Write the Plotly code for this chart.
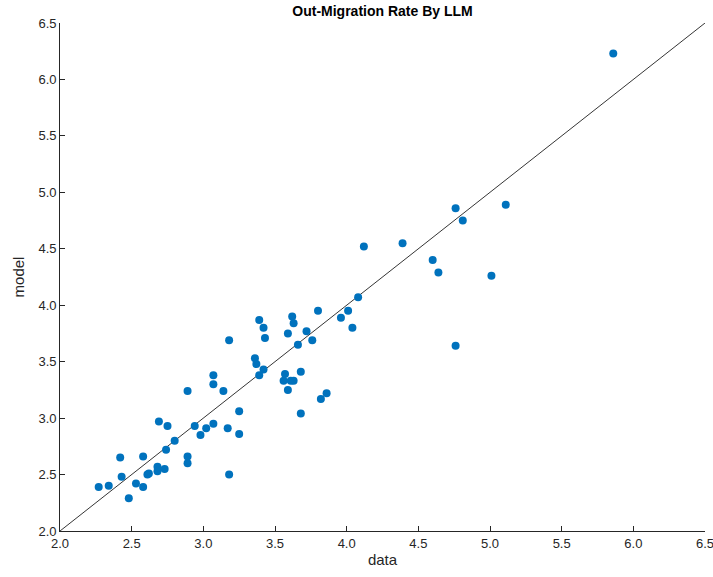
import plotly.graph_objects as go

# Observed out-migration rate vs. model prediction
data_vals = [
    2.27, 2.34, 2.48, 2.43, 2.42, 2.53, 2.58, 2.61, 2.62, 2.58,
    2.69, 2.75, 2.68, 2.68, 2.73, 2.74, 2.80, 2.89, 2.89, 2.94,
    2.98, 3.02, 3.07, 3.17, 3.18, 3.25, 3.25, 2.89,
    3.18, 3.39, 3.42, 3.43, 3.36, 3.37, 3.42, 3.39, 3.07, 3.07,
    3.14, 3.62, 3.63, 3.59, 3.72, 3.66, 3.76, 3.80, 3.96, 4.01,
    4.04, 4.08, 3.57, 3.56, 3.61, 3.63, 3.68, 3.59, 3.86, 3.82,
    3.68,
    4.12, 4.39, 4.76, 4.81, 5.11, 4.60, 4.64, 5.01, 4.76, 5.86,
]
model_vals = [
    2.39, 2.40, 2.29, 2.48, 2.65, 2.42, 2.39, 2.50, 2.51, 2.66,
    2.97, 2.93, 2.57, 2.53, 2.55, 2.72, 2.80, 2.66, 2.60, 2.93,
    2.85, 2.91, 2.95, 2.91, 2.50, 3.06, 2.86, 3.24,
    3.69, 3.87, 3.80, 3.71, 3.53, 3.48, 3.43, 3.38, 3.38, 3.30,
    3.24, 3.90, 3.84, 3.75, 3.77, 3.65, 3.69, 3.95, 3.89, 3.95,
    3.80, 4.07, 3.39, 3.33, 3.33, 3.33, 3.41, 3.25, 3.22, 3.17,
    3.04,
    4.52, 4.55, 4.86, 4.75, 4.89, 4.40, 4.29, 4.26, 3.64, 6.23,
]

axis_limits = [2.0, 6.5]
tick_vals = [2.0, 2.5, 3.0, 3.5, 4.0, 4.5, 5.0, 5.5, 6.0, 6.5]
tick_text = [f"{v:.1f}" for v in tick_vals]

fig = go.Figure()

# Identity line y = x across the axis limits
fig.add_trace(go.Scatter(
    x=axis_limits, y=axis_limits, mode="lines",
    line=dict(color="#000000", width=0.8),
    hoverinfo="skip", showlegend=False,
))

fig.add_trace(go.Scatter(
    x=data_vals, y=model_vals, mode="markers",
    marker=dict(color="#0072BD", size=8, line=dict(width=0)),
    showlegend=False,
))

axis_style = dict(
    range=axis_limits,
    tickvals=tick_vals,
    ticktext=tick_text,
    showgrid=False,
    zeroline=False,
    showline=True,
    linecolor="#262626",
    linewidth=0.8,
    mirror=False,
    ticks="inside",
    ticklen=5,
    tickwidth=0.8,
    tickcolor="#262626",
    ticklabeloverflow="allow",
    automargin=False,
    tickfont=dict(family="Liberation Sans, Arial, sans-serif", size=13, color="#262626"),
)

fig.update_layout(
    width=713, height=577,
    margin=dict(l=60, r=8, t=23, b=46),
    paper_bgcolor="white",
    plot_bgcolor="white",
    title=dict(
        text="<b>Out-Migration Rate By LLM</b>",
        x=(60 + 705) / 2 / 713, xanchor="center",
        y=1 - 11 / 577, yanchor="middle",
        font=dict(family="Liberation Sans, Arial, sans-serif", size=14, color="#000000"),
    ),
    xaxis=dict(**axis_style, title=dict(text="data", standoff=4,
               font=dict(family="Liberation Sans, Arial, sans-serif", size=15, color="#262626"))),
    yaxis=dict(**axis_style, title=dict(text="model", standoff=10,
               font=dict(family="Liberation Sans, Arial, sans-serif", size=15, color="#262626"))),
)

fig.write_html("out.html")
